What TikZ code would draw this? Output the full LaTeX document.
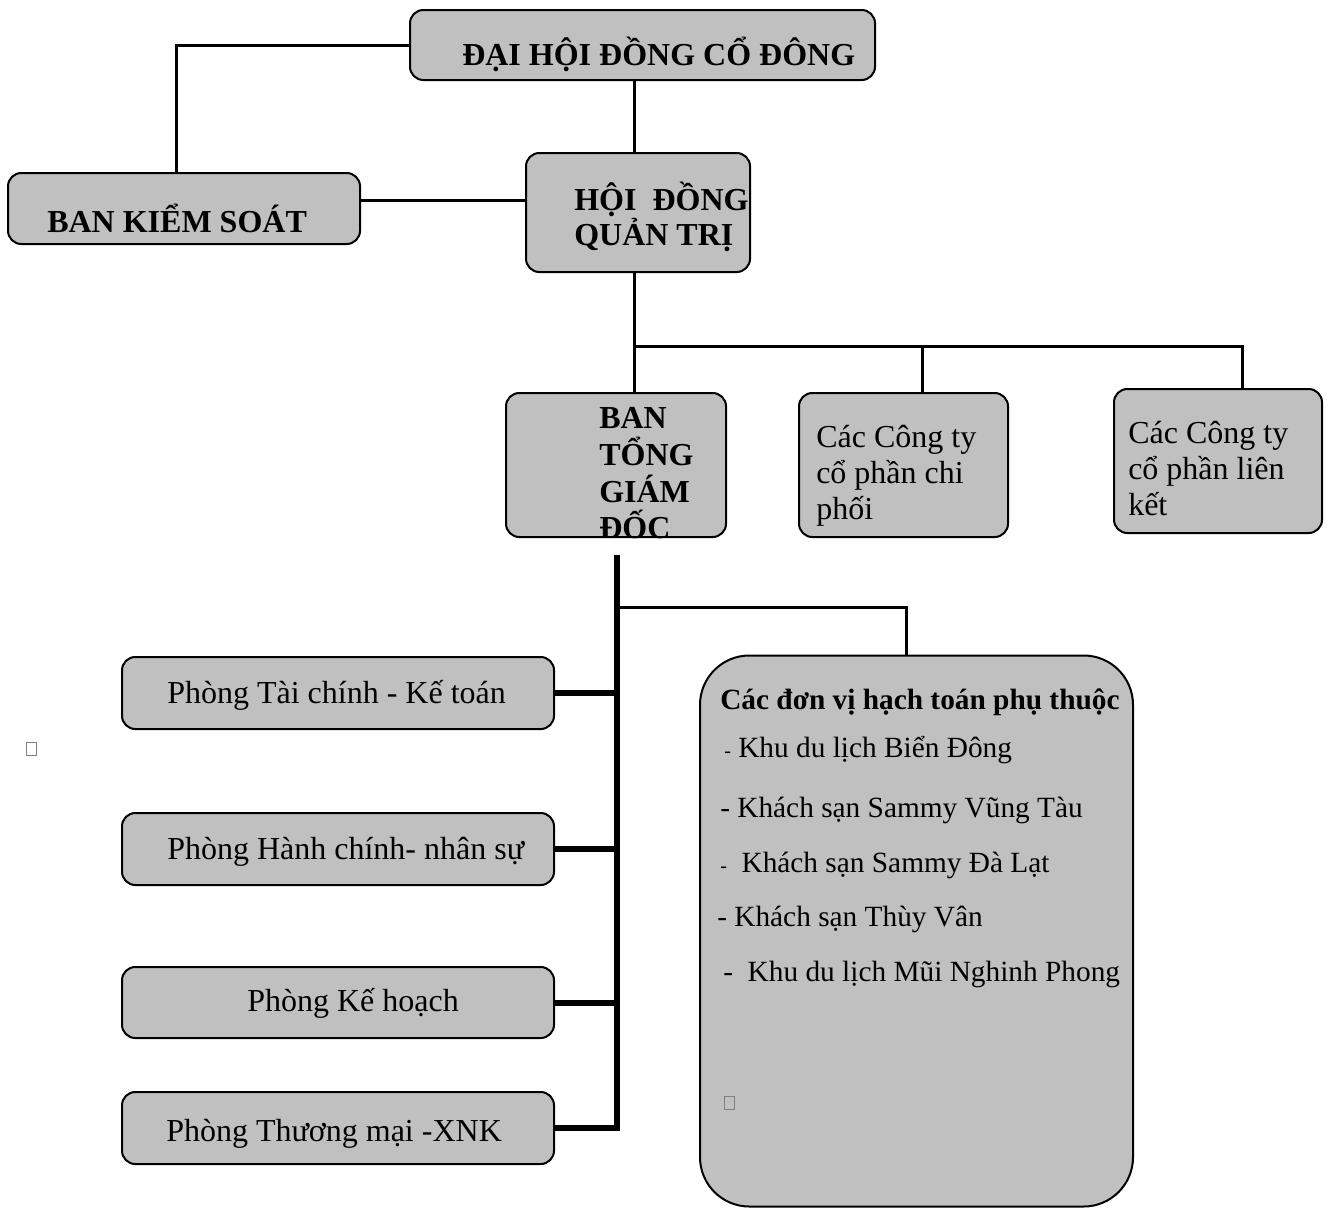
\documentclass[tikz,border=0pt]{standalone}
\usepackage{fontspec}
\setmainfont{Liberation Serif}
\definecolor{boxgray}{RGB}{192,192,192}
\begin{document}
\begin{tikzpicture}[x=0.75pt,y=-0.75pt,
  box/.style={draw=black,fill=boxgray,line width=1.5pt,rounded corners=10pt,inner sep=0pt},
  txt/.style={anchor=base west,inner sep=0pt,font=\fontsize{24}{29}\selectfont},
  btxt/.style={txt,font=\fontsize{24}{29}\selectfont\bfseries},
  stxt/.style={anchor=base west,inner sep=0pt,font=\fontsize{22}{27}\selectfont},
  sbtxt/.style={stxt,font=\fontsize{22}{27}\selectfont\bfseries},
  conn/.style={line width=2.25pt},
  bus/.style={line width=4.5pt},
  glyphbox/.style={draw=gray,line width=0.6pt,inner sep=0pt,minimum width=8pt,minimum height=10pt}]
\useasboundingbox (0,0) rectangle (1330,1207);
% boxes
\node[box,minimum width=348.75pt,minimum height=52.5pt] (dh) at (642.5,45) {};
\node[box,minimum width=264pt,minimum height=53.25pt] (bks) at (184,208.5) {};
\node[box,minimum width=168pt,minimum height=89.25pt] (hdqt) at (638,212.5) {};
\node[box,minimum width=165pt,minimum height=108pt] (btgd) at (616,465) {};
\node[box,minimum width=156.75pt,minimum height=108pt] (cp) at (903.5,465) {};
\node[box,minimum width=156pt,minimum height=108pt] (lk) at (1218,461) {};
\node[box,minimum width=324pt,minimum height=54pt] (tc) at (338,693) {};
\node[box,minimum width=324pt,minimum height=54pt] (hc) at (338,849) {};
\node[box,minimum width=324pt,minimum height=53.25pt] (kh) at (338,1002.5) {};
\node[box,minimum width=324pt,minimum height=54pt] (tm) at (338,1128) {};
\node[box,rounded corners=37pt,minimum width=324.75pt,minimum height=413.25pt] (dv) at (916.5,931) {};
% texts
\node[btxt] (tdh) at (462,65) {ĐẠI HỘI ĐỒNG CỔ ĐÔNG};
\node[btxt] (tbks) at (47,232) {BAN KIỂM SOÁT};
\node[btxt] (thd1) at (574,210) {HỘI\ \ ĐỒNG};
\node[btxt] (thd2) at (574,245) {QUẢN TRỊ};
\node[btxt] (tbt1) at (599,428) {BAN};
\node[btxt] (tbt2) at (599,465) {TỔNG};
\node[btxt] (tbt3) at (599,502) {GIÁM};
\node[btxt] (tbt4) at (599,538) {ĐỐC};
\node[txt] (tcp1) at (816,447) {Các Công ty};
\node[txt] (tcp2) at (816,483) {cổ phần chi};
\node[txt] (tcp3) at (816,519) {phối};
\node[txt] (tlk1) at (1128,443) {Các Công ty};
\node[txt] (tlk2) at (1128,479) {cổ phần liên};
\node[txt] (tlk3) at (1128,515) {kết};
\node[txt] (ttc) at (167,703) {Phòng Tài chính - Kế toán};
\node[txt] (thc) at (167,859) {Phòng Hành chính- nhân sự};
\node[txt] (tkh) at (247,1011) {Phòng Kế hoạch};
\node[txt] (ttm) at (166,1141) {Phòng Thương mại -XNK};
\node[sbtxt] (tdv0) at (720,709) {Các đơn vị hạch toán phụ thuộc};
\node[stxt] (tdv1) at (724,757) {{\fontsize{15}{20}\selectfont -} Khu du lịch Biển Đông};
\node[stxt] (tdv2) at (720,817) {- Khách sạn Sammy Vũng Tàu};
\node[stxt] (tdv3) at (720,872) {{\fontsize{15}{20}\selectfont -}\ \ Khách sạn Sammy Đà Lạt};
\node[stxt] (tdv4) at (717,926) {- Khách sạn Thùy Vân};
\node[stxt] (tdv5) at (723,981) {-\ \ Khu du lịch Mũi Nghinh Phong};
% missing-glyph boxes
\node[glyphbox] (g1) at (31.5,749) {};
\node[glyphbox] (g2) at (729.5,1103) {};
% connectors
\draw[conn] (dh.west) -| ([xshift=-6pt]bks.north);
\draw[conn] ([xshift=-6pt]dh.south) -- ([xshift=-6pt]dh.south |- hdqt.north);
\draw[conn] ([yshift=6pt]bks.east) -- ([yshift=6pt]bks.east -| hdqt.west);
\coordinate (j1) at (634,346);
\coordinate (j2) at (922,346);
\coordinate (j3) at (1242,346);
\draw[conn] (j1 |- hdqt.south) -- (j1) -- (j1 |- btgd.north);
\draw[conn] (j1) -- (j3) -- (j3 |- lk.north);
\draw[conn] (j2) -- (j2 |- cp.north);
\coordinate (t0) at (617,555);
\coordinate (j4) at (617,607);
\coordinate (j5) at (906,607);
\draw[bus] (t0) |- (tm.east);
\draw[bus] (tc.east) -- (tc.east -| t0);
\draw[bus] (hc.east) -- (hc.east -| t0);
\draw[bus] (kh.east) -- (kh.east -| t0);
\draw[conn] (j4) -- (j5) -- (j5 |- dv.north);
\end{tikzpicture}
\end{document}
